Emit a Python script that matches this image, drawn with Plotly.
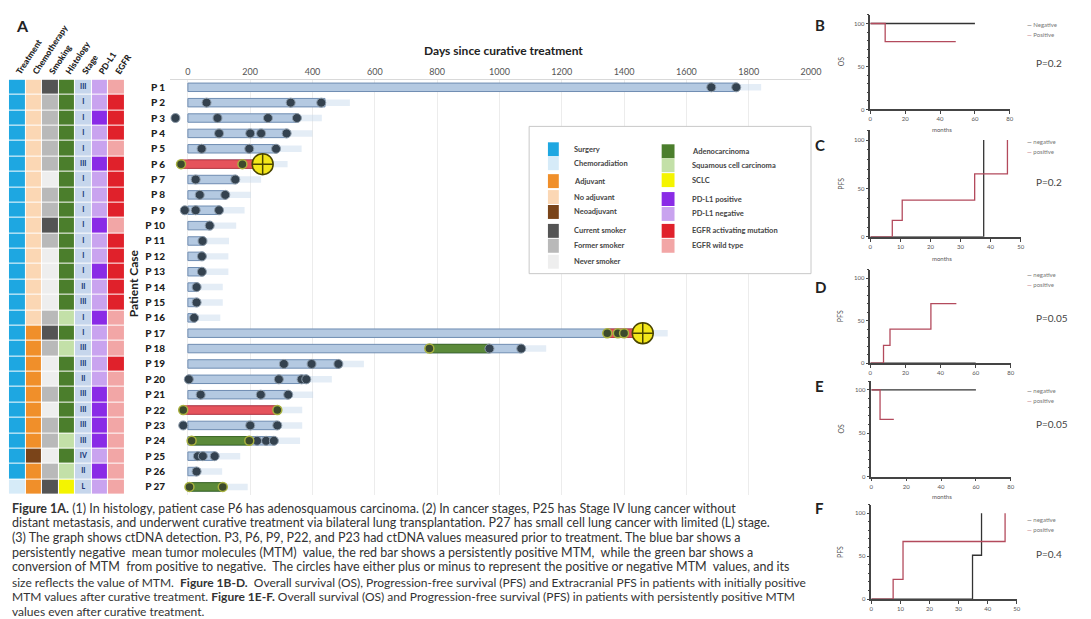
import plotly.graph_objects as go

W, H = 1091, 619


def px(x):
    return x / W


def py(y):
    return 1 - y / H


# ---------------- data: patient characteristics ----------------
patients = [f"P {i}" for i in range(1, 28)]
rows = list(range(1, 28))

treatment = ["Surgery"] * 26 + ["Chemoradiation"]
chemo = ["No adjuvant"] * 16 + ["Adjuvant"] * 8 + ["Neoadjuvant", "Adjuvant", "Adjuvant"]
smoking = ["Current smoker", "Former smoker", "Former smoker", "Former smoker", "Former smoker",
           "Former smoker", "Never smoker", "Former smoker", "Former smoker", "Current smoker",
           "Former smoker", "Never smoker", "Never smoker", "Never smoker", "Never smoker",
           "Former smoker", "Current smoker", "Former smoker", "Never smoker", "Never smoker",
           "Former smoker", "Never smoker", "Former smoker", "Former smoker", "Never smoker",
           "Former smoker", "Current smoker"]
histology = (["Adenocarcinoma"] * 15 + ["Squamous cell carcinoma", "Adenocarcinoma",
             "Squamous cell carcinoma"] + ["Adenocarcinoma"] * 5 +
             ["Squamous cell carcinoma", "Adenocarcinoma", "Squamous cell carcinoma", "SCLC"])
stage = ["III", "I", "I", "I", "I", "III", "I", "I", "I", "I", "I", "I", "I", "II", "III",
         "I", "I", "III", "III", "II", "III", "III", "III", "III", "IV", "II", "L"]
pdl1_pos = [3, 6, 10, 13, 16, 21, 22, 23, 24, 26]
egfr_act = [2, 3, 4, 6, 7, 8, 9, 11, 12, 13, 14, 15, 19]

columns = ["Treatment", "Chemotherapy", "Smoking", "Histology", "Stage", "PD-L1", "EGFR"]

legend_left = ["Surgery", "Chemoradiation", "Adjuvant", "No adjuvant", "Neoadjuvant",
               "Current smoker", "Former smoker", "Never smoker"]
legend_right = ["Adenocarcinoma", "Squamous cell carcinoma", "SCLC", "PD-L1 positive",
                "PD-L1 negative", "EGFR activating mutation", "EGFR wild type"]

# ---------------- data: ctDNA timeline (days) ----------------
bar_end = [1760, 440, 350, 320, 285, 240, 155, 122, 102, 75, 52, 50, 50, 32, 32, 24,
           1460, 1070, 485, 382, 322, 287, 287, 280, 88, 30, 112]
red_patient = [6, 17, 22]
red_start = [-20, 1346, -15]
red_end = [240, 1460, 287]
green_patient = [18, 24, 27]
green_start = [775, 12, 0]
green_end = [968, 197, 112]

mtm_neg = [[1680, 1760], [60, 330, 428], [-40, 95, 257, 350], [100, 200, 235, 317],
           [44, 197, 283], [], [25, 152], [38, 120], [-10, 25, 100], [70], [47], [45],
           [45], [28], [28], [20], [], [968, 1070], [308, 397, 483], [3, 292, 365, 380],
           [41, 234, 322], [], [-15, 200, 287], [222, 251, 276], [32, 48, 86], [28], []]
mtm_pos = [[], [], [], [], [], [-22, 175], [], [], [], [], [], [], [], [], [], [],
           [1346, 1380, 1400], [775], [], [], [], [-15, 287], [], [12, 197], [], [], [5, 112]]
mtm_big_patient = [6, 17]
mtm_big_day = [240, 1460]

# ---------------- data: survival panels ----------------
b_neg_t, b_neg_s = [0, 60], [100, 100]
b_pos_t, b_pos_s = [0, 8.5, 49], [100, 79, 79]
c_neg_t, c_neg_s = [0, 37.7], [0, 100]
c_pos_t, c_pos_s = [0, 7.3, 10.6, 34.7, 45.6], [0, 17, 38, 65, 100]
d_neg_t, d_neg_s = [0, 60], [0, 0]
d_pos_t, d_pos_s = [0, 7.5, 11.2, 34.5, 49], [0, 21, 40, 70, 70]
e_neg_t, e_neg_s = [0, 60], [100, 100]
e_pos_t, e_pos_s = [0, 5, 12.9], [100, 66, 66]
f_neg_t, f_neg_s = [0, 34.8, 37.9], [0, 51, 100]
f_pos_t, f_pos_s = [0, 7.5, 10.9, 46], [0, 23, 67, 100]

colors = {
    "Surgery": "#1ea7e1", "Chemoradiation": "#d6ebf8",
    "Adjuvant": "#f08f2a", "No adjuvant": "#fbd7b4", "Neoadjuvant": "#7a4419",
    "Current smoker": "#545454", "Former smoker": "#b9b9b9", "Never smoker": "#eeeeee",
    "Adenocarcinoma": "#4b7e2c", "Squamous cell carcinoma": "#c3e0a8", "SCLC": "#f4f400",
    "PD-L1 positive": "#8a2be6", "PD-L1 negative": "#c9a3ef",
    "EGFR activating mutation": "#e0212b", "EGFR wild type": "#f2a6a6",
    "Stage": "#c6d6ec",
}

FONT = "Lato"
fig = go.Figure()

# ---------------- heatmap ----------------
names = list(colors.keys())
n = len(names)
scale = []
for i, nm in enumerate(names):
    scale += [[i / n, colors[nm]], [(i + 1) / n, colors[nm]]]

z = []
for r in range(27):
    cells = [treatment[r], chemo[r], smoking[r], histology[r], "Stage",
             "PD-L1 positive" if r + 1 in pdl1_pos else "PD-L1 negative",
             "EGFR activating mutation" if r + 1 in egfr_act else "EGFR wild type"]
    z.append([names.index(c) + 0.5 for c in cells])

fig.add_trace(go.Heatmap(z=z, x=list(range(7)), y=rows, colorscale=scale, zmin=0, zmax=n,
                         showscale=False, xgap=1, ygap=1, hoverinfo="skip",
                         xaxis="x2", yaxis="y"))
fig.add_trace(go.Scatter(x=[4] * 27, y=rows, text=stage, mode="text", xaxis="x2", yaxis="y",
                         textfont=dict(size=7, color="#1f3b7a", family=FONT + " Black")))

# ---------------- timeline bars ----------------
fig.add_trace(go.Bar(orientation="h", y=rows, base=bar_end, x=[80] * 27, width=0.42,
                     marker=dict(color="rgba(196,214,236,0.45)", line_width=0)))
fig.add_trace(go.Bar(orientation="h", y=rows, base=[0] * 27, x=bar_end, width=0.55,
                     marker=dict(color="#b4c9e1", line=dict(color="#6f8db2", width=1))))
fig.add_trace(go.Bar(orientation="h", y=red_patient, base=red_start,
                     x=[e - s for s, e in zip(red_start, red_end)], width=0.55,
                     marker=dict(color="#e5535c", line=dict(color="#c03a44", width=1))))
fig.add_trace(go.Bar(orientation="h", y=green_patient, base=green_start,
                     x=[e - s for s, e in zip(green_start, green_end)], width=0.55,
                     marker=dict(color="#5b8a3a", line=dict(color="#3f6a25", width=1))))

neg_x, neg_y, pos_x, pos_y = [], [], [], []
for r in range(27):
    neg_x += mtm_neg[r]
    neg_y += [r + 1] * len(mtm_neg[r])
    pos_x += mtm_pos[r]
    pos_y += [r + 1] * len(mtm_pos[r])
fig.add_trace(go.Scatter(x=neg_x, y=neg_y, mode="markers",
                         marker=dict(size=9, color="#34424f", line=dict(color="#8d9cab", width=1))))
fig.add_trace(go.Scatter(x=pos_x, y=pos_y, mode="markers",
                         marker=dict(size=9, color="#3c4a2c", line=dict(color="#a9b23f", width=1.5))))
fig.add_trace(go.Scatter(x=mtm_big_day, y=mtm_big_patient, mode="markers",
                         marker=dict(size=21, symbol="circle-cross", color="#f3e61a",
                                     line=dict(color="#4a4500", width=1.5))))

# ---------------- survival panels ----------------
panels = [
    ("3", b_neg_t, b_neg_s, b_pos_t, b_pos_s),
    ("4", c_neg_t, c_neg_s, c_pos_t, c_pos_s),
    ("5", d_neg_t, d_neg_s, d_pos_t, d_pos_s),
    ("6", e_neg_t, e_neg_s, e_pos_t, e_pos_s),
    ("7", f_neg_t, f_neg_s, f_pos_t, f_pos_s),
]
for k, nt, ns, pt, ps in panels:
    fig.add_trace(go.Scatter(x=nt, y=ns, mode="lines", line=dict(shape="hv", color="#333333", width=1.3),
                             xaxis="x" + k, yaxis="y" + k))
    fig.add_trace(go.Scatter(x=pt, y=ps, mode="lines", line=dict(shape="hv", color="#b34a5c", width=1.3),
                             xaxis="x" + k, yaxis="y" + k))

# ---------------- layout ----------------
layout = dict(
    width=W, height=H, margin=dict(l=0, r=0, t=0, b=0),
    paper_bgcolor="white", plot_bgcolor="white", showlegend=False,
    barmode="overlay", font=dict(family=FONT, color="#333"),
    xaxis=dict(domain=[px(170), px(818)], range=[-57, 2000], side="top",
               tickvals=list(range(0, 2001, 200)), tickfont=dict(size=9, color="#555"),
               showgrid=True, gridcolor="#ececec", zeroline=False,
               showline=True, linecolor="#d9d9d9", ticks=""),
    yaxis=dict(domain=[py(497), py(80)], range=[27.5, 0.5], tickvals=rows, ticktext=patients,
               tickfont=dict(size=10, color="#222", family=FONT + " Black"),
               showgrid=False, zeroline=False, ticks="", ticklabelstandoff=4),
    xaxis2=dict(domain=[px(7), px(124)], range=[-0.5, 6.5], side="top", anchor="y",
                tickvals=list(range(7)), ticktext=columns, tickangle=-57,
                tickfont=dict(size=8.5, color="#222", family=FONT + " Black"),
                showgrid=False, zeroline=False, ticks=""),
)

panel_boxes = [
    ("3", 878, 1019, 15, 110, 80, 20),
    ("4", 878, 1030, 131, 238, 50, 10),
    ("5", 878, 1020, 271, 365, 80, 20),
    ("6", 879, 1020, 383, 479, 80, 20),
    ("7", 879, 1026, 507, 602, 50, 10),
]
for k, x0, x1, y0, y1, xmax, xd in panel_boxes:
    ax = dict(showline=True, linecolor="#444", linewidth=1.5, ticks="outside", ticklen=3,
              tickwidth=1, tickcolor="#444", tickfont=dict(size=6, color="#555"),
              showgrid=False, zeroline=False)
    layout["xaxis" + k] = dict(ax, domain=[px(x0), px(x1)], range=[0, xmax], dtick=xd,
                               anchor="y" + k)
    layout["yaxis" + k] = dict(ax, domain=[py(y1), py(y0)], range=[0, 110],
                               tickvals=[0, 50, 100], anchor="x" + k,
                               minor=dict(ticks="outside", ticklen=2, dtick=10, tickcolor="#444"))

ann = []
shapes = []


def text(x, y, s, size, color="#333", angle=0, xanchor="left", family=FONT):
    ann.append(dict(x=px(x), y=py(y), xref="paper", yref="paper", text=s, showarrow=False,
                    xanchor=xanchor, yanchor="middle", textangle=angle,
                    font=dict(size=size, color=color, family=family)))


text(12, 26, "<b>A</b>", 16, "#222")
text(507, 51, "<b>Days since curative treatment</b>", 12, "#222", xanchor="center")
text(133, 285, "<b>Patient Case</b>", 12, "#222", angle=-90, xanchor="center")

# legend box
shapes.append(dict(type="rect", xref="paper", yref="paper", x0=px(533), x1=px(818),
                   y0=py(275), y1=py(127), fillcolor="white", line=dict(color="#c8c8c8", width=1),
                   layer="above"))
left_y = [150, 164, 182, 198, 213, 232, 247, 263]
right_y = [152, 166, 181, 200, 215, 232, 247]
for lab, yy in zip(legend_left, left_y):
    shapes.append(dict(type="rect", xref="paper", yref="paper", x0=px(552), x1=px(563),
                       y0=py(yy + 7), y1=py(yy - 7), fillcolor=colors[lab], line_width=0,
                       layer="above"))
    text(576, yy, "<b>" + lab + "</b>", 7.5, "#444")
for lab, yy in zip(legend_right, right_y):
    shapes.append(dict(type="rect", xref="paper", yref="paper", x0=px(667), x1=px(680),
                       y0=py(yy + 7), y1=py(yy - 7), fillcolor=colors[lab], line_width=0,
                       layer="above"))
    text(696, yy, "<b>" + lab + "</b>", 7.5, "#444")

# panel labels, legends, p values, axis titles
letters = ["B", "C", "D", "E", "F"]
letter_y = [25, 146, 288, 388, 510]
ytitles = ["OS", "PFS", "PFS", "OS", "PFS"]
ytitle_y = [62, 185, 318, 431, 555]
leg_y = [25, 142, 276, 392, 522]
pvals = ["P=0.2", "P=0.2", "P=0.05", "P=0.05", "P=0.4"]
p_y = [63, 183, 320, 426, 557]
neg_lab = ["Negative", "negative", "negative", "negative", "negative"]
pos_lab = ["Positive", "positive", "positive", "positive", "positive"]
for i in range(5):
    text(820, letter_y[i], "<b>" + letters[i] + "</b>", 15, "#222")
    text(848, ytitle_y[i], ytitles[i], 7, "#555", angle=-90, xanchor="center")
    text(1034, leg_y[i], "<span style='color:#333'>—</span> " + neg_lab[i], 6, "#777")
    text(1034, leg_y[i] + 10, "<span style='color:#b34a5c'>—</span> " + pos_lab[i], 6, "#777")
    text(1043, p_y[i], pvals[i], 10, "#444")
for yy in [130, 260, 499]:
    text(950, yy, "months", 6, "#555", xanchor="center")

caption = [
    "<b>Figure 1A.</b> (1) In histology, patient case P6 has adenosquamous carcinoma. (2) In cancer stages, P25 has Stage IV lung cancer without",
    "distant metastasis, and underwent curative treatment via bilateral lung transplantation. P27 has small cell lung cancer with limited (L) stage.",
    "(3) The graph shows ctDNA detection. P3, P6, P9, P22, and P23 had ctDNA values measured prior to treatment. The blue bar shows a",
    "persistently negative  mean tumor molecules (MTM)  value, the red bar shows a persistently positive MTM,  while the green bar shows a",
    "conversion of MTM  from positive to negative.  The circles have either plus or minus to represent the positive or negative MTM  values, and its",
    "size reflects the value of MTM.  <b>Figure 1B-D.</b>  Overall survival (OS), Progression-free survival (PFS) and Extracranial PFS in patients with initially positive",
    "MTM values after curative treatment. <b>Figure 1E-F.</b> Overall survival (OS) and Progression-free survival (PFS) in patients with persistently positive MTM",
    "values even after curative treatment.",
]
cap_y = [511, 525, 540, 555, 569, 585, 599, 614]
cap_size = [12.5, 12.5, 12.5, 12.5, 12.5, 12, 12, 12]
for s, yy, fs in zip(caption, cap_y, cap_size):
    text(8, yy, s, fs, "#333")

layout["annotations"] = ann
layout["shapes"] = shapes
fig.update_layout(**layout)
fig.write_html("out.html", config={"displayModeBar": False},
               post_script="document.body.style.margin='0';")
